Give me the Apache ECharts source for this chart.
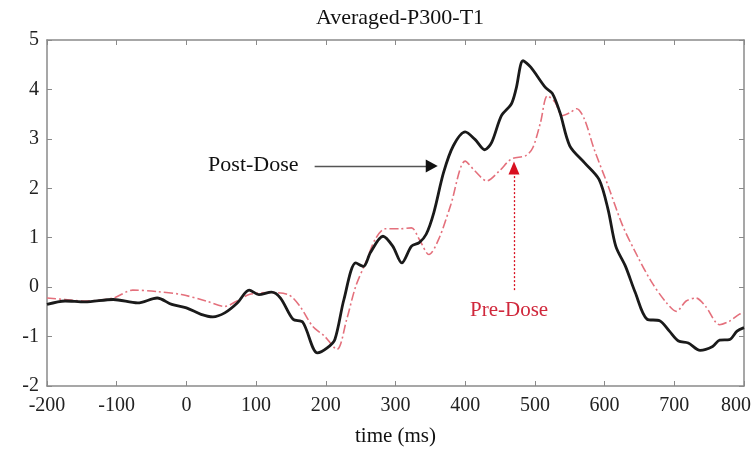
<!DOCTYPE html>
<html><head><meta charset="utf-8">
<script src="https://cdn.jsdelivr.net/npm/echarts@6/dist/echarts.min.js"></script>
<style>html,body{margin:0;padding:0;background:#fff}#c{width:756px;height:450px}</style>
</head><body><div id="c"></div>
<script>
var titleText = 'Averaged-P300-T1';
var xTicks = [-200,-100,0,100,200,300,400,500,600,700,800];
var yTicks = [-2,-1,0,1,2,3,4,5];
var postX = [-200,-174,-146,-105,-70,-42,-21,0,21,38,55,73,90,104,122,135,153,167,188,202,213,226,243,254,264,282,296,309,323,334,344,355,369,383,400,414,428,438,452,466,473,483,494,515,525,536,550,571,592,605,616,630,644,661,679,693,706,720,737,755,765,779,790,800];
var postY = [-0.35,-0.28,-0.30,-0.25,-0.32,-0.22,-0.35,-0.42,-0.55,-0.60,-0.52,-0.32,-0.06,-0.15,-0.10,-0.22,-0.65,-0.71,-1.33,-1.23,-1.06,-0.25,0.49,0.42,0.70,1.03,0.83,0.49,0.83,0.90,1.07,1.51,2.32,2.86,3.14,2.99,2.78,2.93,3.47,3.70,4.01,4.58,4.45,4.04,3.92,3.53,2.86,2.52,2.18,1.57,0.83,0.42,-0.11,-0.65,-0.68,-0.89,-1.09,-1.13,-1.28,-1.20,-1.07,-1.06,-0.89,-0.82];
var preX = [-200,-174,-146,-105,-77,-42,-7,28,55,76,90,118,146,163,181,198,216,230,243,257,271,285,306,323,334,348,362,379,400,414,431,449,466,487,497,508,518,529,539,550,560,571,585,605,626,647,668,689,703,717,731,745,765,779,793,800];
var preY = [-0.22,-0.25,-0.28,-0.22,-0.06,-0.09,-0.15,-0.28,-0.39,-0.25,-0.15,-0.11,-0.15,-0.39,-0.79,-0.99,-1.26,-0.65,0.02,0.49,0.97,1.18,1.18,1.20,0.97,0.66,0.97,1.65,2.55,2.35,2.15,2.35,2.59,2.66,2.82,3.33,3.87,3.74,3.47,3.53,3.61,3.40,2.79,2.05,1.24,0.63,0.09,-0.32,-0.49,-0.28,-0.22,-0.39,-0.76,-0.69,-0.55,-0.52];
var postLabel = 'Post-Dose';
var preLabel = 'Pre-Dose';
var xName = 'time (ms)';

function zip(a,b){return a.map(function(v,i){return [v,b[i]];});}
var font = 'Liberation Serif';
var axisCol = '#8a8a8a';
var tickStyle = {inside:true,length:5,lineStyle:{color:axisCol}};
var lineSt = {show:true,onZero:false,lineStyle:{color:axisCol,width:1.5}};
var xMax = xTicks[xTicks.length-1];
var chart = echarts.init(document.getElementById('c'), null, {renderer:'canvas'});
chart.setOption({
  animation:false,
  title:{text:titleText,left:395,top:2,textAlign:'center',textStyle:{fontFamily:font,fontSize:22,fontWeight:'normal',color:'#111'}},
  grid:{left:47,right:12,top:40,bottom:64,containLabel:false,outerBoundsMode:'none'},
  xAxis:[{type:'value',min:xTicks[0],max:xMax,interval:100,
    name:xName,nameLocation:'middle',nameGap:40,nameTextStyle:{fontFamily:font,fontSize:21,color:'#111'},
    axisLine:lineSt,axisTick:tickStyle,
    axisLabel:{fontFamily:font,fontSize:20,color:'#222',margin:10,
      formatter:function(v){return v===xMax?'{r|'+v+'}':String(v);},
      rich:{r:{fontFamily:font,fontSize:20,color:'#222',padding:[0,16,0,0]}}},
    splitLine:{show:false}},
   {type:'value',position:'top',min:xTicks[0],max:xMax,interval:100,
    axisLine:lineSt,axisTick:tickStyle,
    axisLabel:{show:false},splitLine:{show:false}}],
  yAxis:[{type:'value',min:yTicks[0],max:yTicks[yTicks.length-1],interval:1,
    axisLine:lineSt,axisTick:Object.assign({show:true},tickStyle),
    axisLabel:{fontFamily:font,fontSize:20,color:'#222',margin:8},splitLine:{show:false}},
   {type:'value',position:'right',min:yTicks[0],max:yTicks[yTicks.length-1],interval:1,
    axisLine:lineSt,axisTick:Object.assign({show:true},tickStyle),
    axisLabel:{show:false},splitLine:{show:false}}],
  series:[
    {type:'line',name:preLabel,data:zip(preX,preY),showSymbol:false,smooth:0.3,
     lineStyle:{color:'#e4707c',width:1.6,type:[9,3,2,3]},z:2,
     markLine:{silent:true,symbol:['none','triangle'],symbolSize:[11,13],
       lineStyle:{color:'#d81020',type:[2,2],width:1.3},label:{show:false},
       data:[[{coord:[470,-0.06]},{coord:[470,2.41]}]]},
     markPoint:{symbol:'rect',symbolSize:0,
       label:{show:true,formatter:preLabel,color:'#d0283c',fontFamily:font,fontSize:21},
       data:[{coord:[463,-0.47]}]}},
    {type:'line',name:postLabel,data:zip(postX,postY),showSymbol:false,smooth:0.3,
     lineStyle:{color:'#1a1a1a',width:2.8},z:3,
     markLine:{silent:true,symbol:['none','none'],
       lineStyle:{color:'#555',type:'solid',width:1.4},label:{show:false},
       data:[[{coord:[184,2.45]},{coord:[352,2.45]}]]},
     markPoint:{silent:true,
       data:[
        {coord:[96,2.47],symbol:'rect',symbolSize:0,
         label:{show:true,formatter:postLabel,color:'#111',fontFamily:font,fontSize:22,position:'inside'}},
        {coord:[352,2.45],symbol:'triangle',symbolSize:[13,12],symbolRotate:-90,
         itemStyle:{color:'#111'},label:{show:false}}
       ]}}
  ]
});
</script></body></html>
